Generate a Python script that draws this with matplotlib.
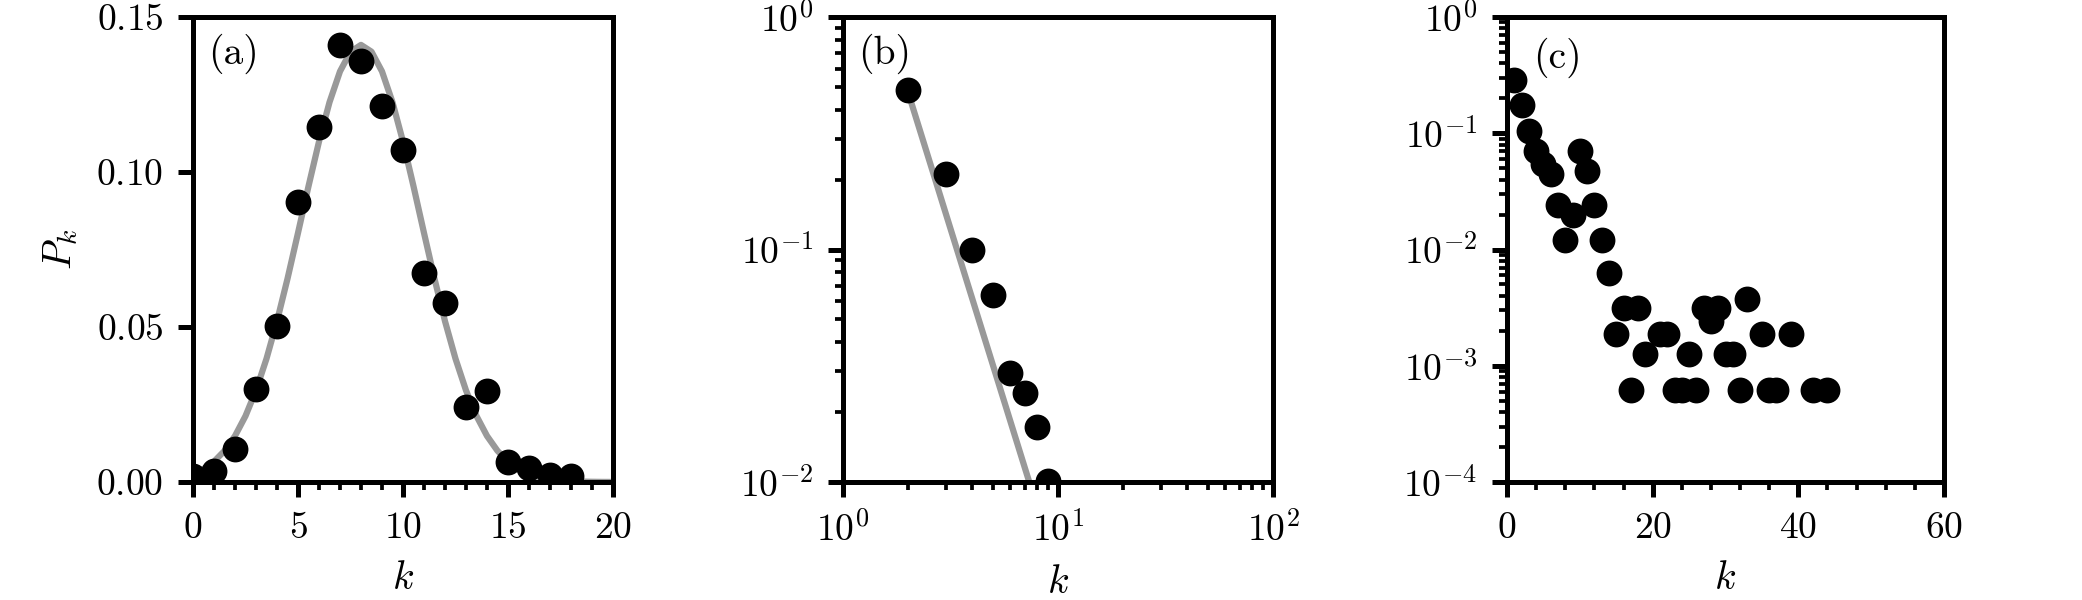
import matplotlib
matplotlib.use("Agg")
import matplotlib.pyplot as plt
from matplotlib.ticker import MultipleLocator, LogLocator, NullFormatter

# ---------------- data ----------------
# panel (a): degree distribution (linear axes) + fitted curve
a_k = [0, 1, 2, 3, 4, 5, 6, 7, 8, 9, 10, 11, 12, 13, 14, 15, 16, 17, 18]
a_p = [0.0019, 0.0037, 0.0106, 0.0300, 0.0504, 0.0902, 0.1144, 0.1409, 0.1358,
       0.1213, 0.1070, 0.0674, 0.0578, 0.0243, 0.0295, 0.0066, 0.0044, 0.0021, 0.0019]
a_fit_k = [0, 0.5, 1, 1.5, 2, 2.5, 3, 3.5, 4, 4.5, 5, 5.5, 6, 6.5, 7, 7.5, 8,
           8.5, 9, 9.5, 10, 10.5, 11, 11.5, 12, 12.5, 13, 13.5, 14, 14.5, 15,
           15.5, 16, 16.5, 17, 17.5, 18, 18.5, 19, 19.5, 20]
a_fit_p = [0.00258, 0.00419, 0.00659, 0.01006, 0.01486, 0.02129, 0.02955, 0.03978,
           0.05187, 0.06557, 0.08034, 0.09540, 0.10981, 0.12250, 0.13245, 0.13881,
           0.14100, 0.13881, 0.13245, 0.12250, 0.10981, 0.09540, 0.08034, 0.06557,
           0.05187, 0.03978, 0.02955, 0.02129, 0.01486, 0.01006, 0.00659, 0.00419,
           0.00258, 0.00154, 0.00089, 0.00050, 0.00027, 0.00014, 0.00007, 0.00003,
           0.00002]

# panel (b): log-log with power-law guide line
b_k = [2, 3, 4, 5, 6, 7, 8, 9]
b_p = [0.484, 0.211, 0.100, 0.0637, 0.0295, 0.0242, 0.0173, 0.0101]
b_fit_k = [2, 7.35]
b_fit_p = [0.48, 0.01]

# panel (c): semi-log
c_k = [1, 2, 3, 4, 5, 6, 7, 8, 9, 10, 11, 12, 13, 14, 15, 16, 17, 18, 19, 21,
       22, 23, 24, 25, 26, 27, 28, 29, 30, 31, 32, 33, 35, 36, 37, 39, 42, 44]
c_p = [0.285, 0.175, 0.104, 0.0707, 0.0542, 0.0448, 0.0240, 0.0120, 0.0197,
       0.0707, 0.0476, 0.0240, 0.0120, 0.00629, 0.00186, 0.00312, 0.000621,
       0.00312, 0.00125, 0.00186, 0.00186, 0.000621, 0.000621, 0.00125,
       0.000621, 0.00312, 0.00243, 0.00312, 0.00125, 0.00125, 0.000621,
       0.00372, 0.00186, 0.000621, 0.000621, 0.00186, 0.000621, 0.000621]

panel_labels = ["(a)", "(b)", "(c)"]

# ---------------- style ----------------
plt.rcParams.update({
    "font.family": "serif",
    "font.serif": ["cmr10", "DejaVu Serif"],
    "mathtext.fontset": "cm",
    "axes.formatter.use_mathtext": True,
    "axes.unicode_minus": False,
    "font.size": 9,
    "axes.linewidth": 1.2,
    "xtick.major.width": 1.2,
    "ytick.major.width": 1.2,
    "xtick.minor.width": 0.9,
    "ytick.minor.width": 0.9,
    "xtick.major.size": 3.6,
    "ytick.major.size": 3.6,
    "xtick.minor.size": 2.0,
    "ytick.minor.size": 2.0,
    "xtick.labelsize": 9,
    "ytick.labelsize": 9,
    "axes.labelsize": 9.5,
})

W, H = 2082, 600
fig = plt.figure(figsize=(W / 300, H / 300), dpi=300)

def px_axes(left, right, top, bottom):
    return fig.add_axes([left / W, 1 - bottom / H, (right - left) / W, (bottom - top) / H])

ax_a = px_axes(193, 613, 17, 482)
ax_b = px_axes(843, 1273, 17, 482)
ax_c = px_axes(1507, 1944, 17, 482)

grey = "#999999"
ms = 5.2

# (a)
ax_a.plot(a_fit_k, a_fit_p, color=grey, lw=1.5, zorder=2)
ax_a.plot(a_k, a_p, "o", color="black", ms=ms, zorder=3)
ax_a.set_xlim(0, 20)
ax_a.set_ylim(0, 0.15)
ax_a.xaxis.set_major_locator(MultipleLocator(5))
ax_a.xaxis.set_minor_locator(MultipleLocator(1))
ax_a.yaxis.set_major_locator(MultipleLocator(0.05))
ax_a.set_xlabel("$k$")
ax_a.set_ylabel("$P_k$")

# (b)
ax_b.plot(b_fit_k, b_fit_p, color=grey, lw=1.5, zorder=2)
ax_b.plot(b_k, b_p, "o", color="black", ms=ms, zorder=3)
ax_b.set_xscale("log")
ax_b.set_yscale("log")
ax_b.set_xlim(1, 100)
ax_b.set_ylim(0.01, 1)
ax_b.set_xlabel("$k$")

# (c)
ax_c.plot(c_k, c_p, "o", color="black", ms=ms, zorder=3)
ax_c.set_yscale("log")
ax_c.set_xlim(0, 60)
ax_c.set_ylim(1e-4, 1)
ax_c.xaxis.set_major_locator(MultipleLocator(20))
ax_c.xaxis.set_minor_locator(MultipleLocator(4))
ax_c.yaxis.set_major_locator(LogLocator(base=10, numticks=10))
ax_c.yaxis.set_minor_locator(LogLocator(base=10, subs=range(2, 10), numticks=10))
ax_c.yaxis.set_minor_formatter(NullFormatter())
ax_c.set_xlabel("$k$")

label_pos = [(0.035, 0.965), (0.035, 0.965), (0.06, 0.955)]
for ax, lab, (lx, ly) in zip([ax_a, ax_b, ax_c], panel_labels, label_pos):
    ax.tick_params(which="both", direction="out")
    ax.text(lx, ly, lab, transform=ax.transAxes, ha="left", va="top", fontsize=9.5)

fig.savefig("out.png", dpi=300)
